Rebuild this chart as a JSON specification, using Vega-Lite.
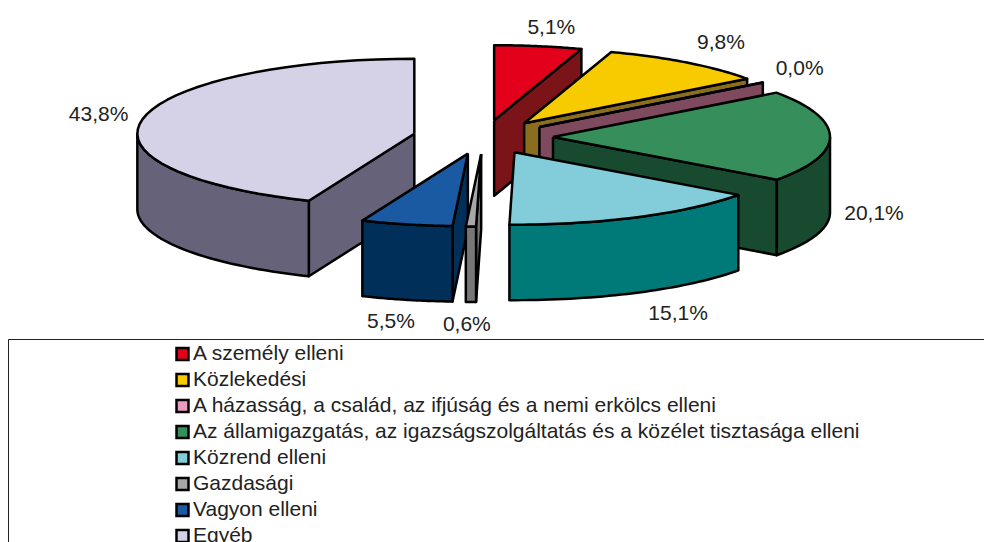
{"$schema":"https://vega.github.io/schema/vega-lite/v6.json","autosize":"none","padding":{"left":8,"top":339,"right":0,"bottom":0},"width":976,"height":203,"background":"white","config":{"view":{"stroke":"#222","strokeWidth":1},"font":"Liberation Sans"},
"data":{"values":[
{"cat":"A személy elleni","idx":0,"value":5.1},
{"cat":"Közlekedési","idx":1,"value":9.8},
{"cat":"A házasság, a család, az ifjúság és a nemi erkölcs elleni","idx":2,"value":0.04},
{"cat":"Az államigazgatás, az igazságszolgáltatás és a közélet tisztasága elleni","idx":3,"value":20.1},
{"cat":"Egyéb","idx":7,"value":43.8},
{"cat":"Vagyon elleni","idx":6,"value":5.5},
{"cat":"Gazdasági","idx":5,"value":0.6},
{"cat":"Közrend elleni","idx":4,"value":15.1}]},
"transform":[
{"joinaggregate":[{"op":"sum","field":"value","as":"total"}]},
{"window":[{"op":"sum","field":"value","as":"cum"}],"sort":[{"field":"idx","order":"ascending"}],"frame":[null,0]},
{"calculate":"2*PI*(datum.cum-datum.value)/datum.total","as":"ts"},
{"calculate":"2*PI*datum.cum/datum.total","as":"te"},
{"calculate":"(datum.ts+datum.te)/2","as":"mid"},
{"calculate":"483+70*sin(datum.mid)","as":"ax"},
{"calculate":"137-17*cos(datum.mid)","as":"ay"},
{"calculate":"max(datum.ts,PI/2)","as":"lo"},
{"calculate":"min(datum.te,3*PI/2)","as":"hi"}],
"layer":[
{"transform":[
{"calculate":"[0,1,2,3]","as":"face"},{"flatten":["face"]},
{"filter":"(datum.face==0&&sin(datum.ts)<0)||(datum.face==1&&sin(datum.te)>0)||(datum.face==2&&datum.hi>datum.lo)||datum.face==3"},
{"calculate":"sequence(0,83)","as":"i"},{"flatten":["i"]},
{"calculate":"datum.face==3?((datum.i==0||datum.i>=42)?0:1):(datum.face==2?1:((datum.i==1||datum.i==2)?1:0))","as":"rim"},
{"calculate":"datum.face==3?0:(datum.face==2?((datum.i>=41&&datum.i<=81)?1:0):((datum.i==2||datum.i==3)?1:0))","as":"down"},
{"calculate":"datum.face==2?(datum.i<=40?datum.i/40:(datum.i<=81?(81-datum.i)/40:0)):(datum.face==3?clamp((datum.i-1)/40,0,1):0)","as":"t"},
{"calculate":"datum.face==0?datum.ts:(datum.face==1?datum.te:(datum.face==2?datum.lo+(datum.hi-datum.lo)*datum.t:datum.ts+(datum.te-datum.ts)*datum.t))","as":"th"},
{"calculate":"datum.ax+datum.rim*277*sin(datum.th)-datum.rim*(cos(datum.th)<0?3*pow(abs(cos(datum.th)),60):0)","as":"px"},
{"calculate":"datum.ay-datum.rim*(cos(datum.th)>0?75:72.5)*cos(datum.th)+datum.down*75.5","as":"py"},
{"calculate":"datum.face==3?datum.cat:datum.cat+' (oldal)'","as":"shade"},
{"calculate":"datum.cat+'/'+datum.face","as":"poly"}],
"mark":{"type":"line","strokeWidth":2.5,"stroke":"black","strokeJoin":"round","interpolate":"linear"},
"encoding":{
"x":{"field":"px","type":"quantitative","scale":{"domain":[8,984],"range":[0,976]},"axis":null},
"y":{"field":"py","type":"quantitative","scale":{"domain":[339,542],"range":[0,203]},"axis":null},
"order":{"field":"i"},
"detail":{"field":"poly"},
"fill":{"field":"shade","type":"nominal","scale":{"domain":["A személy elleni","Közlekedési","A házasság, a család, az ifjúság és a nemi erkölcs elleni","Az államigazgatás, az igazságszolgáltatás és a közélet tisztasága elleni","Közrend elleni","Gazdasági","Vagyon elleni","Egyéb","A személy elleni (oldal)","Közlekedési (oldal)","A házasság, a család, az ifjúság és a nemi erkölcs elleni (oldal)","Az államigazgatás, az igazságszolgáltatás és a közélet tisztasága elleni (oldal)","Közrend elleni (oldal)","Gazdasági (oldal)","Vagyon elleni (oldal)","Egyéb (oldal)"],"range":["#e2001a","#f7cb00","#eb9cc0","#368e5a","#83ccd9","#a8a8a8","#1a5aa3","#d5d2e8","#7b1418","#8a6d1e","#7f4a5e","#184a30","#007a78","#777777","#002f5a","#66627a"]},
"legend":{"title":null,"orient":"none","legendX":164,"legendY":2,"padding":0,"values":["A személy elleni","Közlekedési","A házasság, a család, az ifjúság és a nemi erkölcs elleni","Az államigazgatás, az igazságszolgáltatás és a közélet tisztasága elleni","Közrend elleni","Gazdasági","Vagyon elleni","Egyéb"],"symbolType":"square","symbolSize":144,"symbolStrokeWidth":2.5,"symbolStrokeColor":"black","labelFont":"Liberation Sans","labelFontSize":21,"labelColor":"#222","labelLimit":800,"labelOffset":0,"rowPadding":0,"clipHeight":26,"encode":{"symbols":{"update":{"fill":{"field":"value","scale":"fill"},"opacity":{"value":1},"stroke":{"value":"black"},"strokeWidth":{"value":2.5}}}}}}}},
{"transform":[
{"calculate":"format(datum.value,'.1f')","as":"v"},
{"calculate":"replace(datum.v,'.',',')+'%'","as":"lab"},
{"calculate":"datum.ax+277*sin(datum.mid)+[13,34,37,44,39,-7,-17,-44][datum.idx]","as":"lx"},
{"calculate":"datum.ay-(cos(datum.mid)>0?74:72.5)*cos(datum.mid)+[-19,-20,-14,77,97,99,98,-4][datum.idx]","as":"ly"}],
"mark":{"type":"text","font":"Liberation Sans","fontSize":21,"color":"#222","align":"center","baseline":"middle"},
"encoding":{
"x":{"field":"lx","type":"quantitative","scale":{"domain":[8,984],"range":[0,976]},"axis":null},
"y":{"field":"ly","type":"quantitative","scale":{"domain":[339,542],"range":[0,203]},"axis":null},
"text":{"field":"lab","type":"nominal"}}}
]}
